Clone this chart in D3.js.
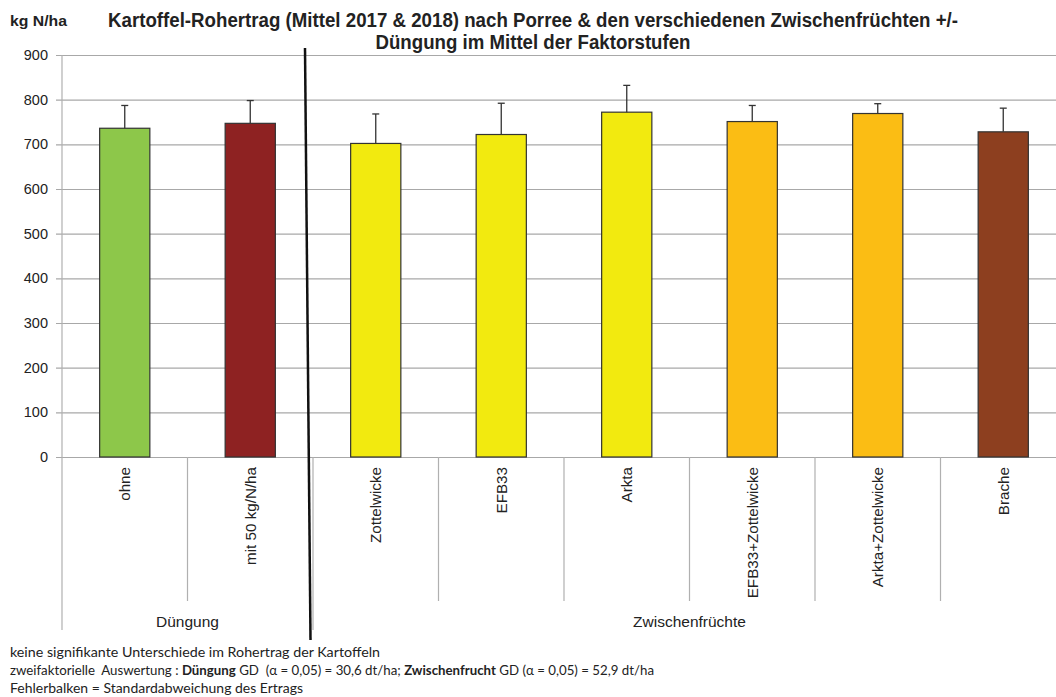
<!DOCTYPE html>
<html><head><meta charset="utf-8">
<script src="https://cdn.jsdelivr.net/npm/d3@7"></script>
<style>body{margin:0;background:#fff}svg{display:block}</style>
</head><body>
<script>
const categories = ["ohne","mit 50 kg/N/ha","Zottelwicke","EFB33","Arkta","EFB33+Zottelwicke","Arkta+Zottelwicke","Brache"];
const groups = [{name:"Düngung", start:0, end:2},{name:"Zwischenfrüchte", start:2, end:8}];
const values = [736, 747, 702, 722, 772, 751, 769, 728];
const errors = [51, 51, 66, 70, 60, 36, 22, 53];
const colors = ["#8dc74a","#8e2222","#f2ea0f","#f2ea0f","#f2ea0f","#fbbd14","#fbbd14","#8d3f1f"];
const yTicks = [0,100,200,300,400,500,600,700,800,900];
const titleLines = ["Kartoffel-Rohertrag (Mittel 2017 & 2018) nach Porree & den verschiedenen Zwischenfrüchten +/-","Düngung im Mittel der Faktorstufen"];
const yLabel = "kg N/ha";
const notes = [
  [{t:"keine signifikante Unterschiede im Rohertrag der Kartoffeln"}],
  [{t:"zweifaktorielle  Auswertung : "},{t:"Düngung",b:true},{t:" GD  (α = 0,05) = 30,6 dt/ha; "},{t:"Zwischenfrucht",b:true},{t:" GD (α = 0,05) = 52,9 dt/ha"}],
  [{t:"Fehlerbalken = Standardabweichung des Ertrags"}]
];

const W = 1056, H = 697;
const svg = d3.select("body").append("svg").attr("width", W).attr("height", H);
const left = 62, bandW = 125.5;
const x = d3.scaleBand().domain(categories).range([left, left + bandW*categories.length]).paddingInner(0).paddingOuter(0);
const y = d3.scaleLinear().domain([0,900]).range([457,55]);
const font = "'Liberation Sans', Arial, sans-serif";

// gridlines
svg.append("g").selectAll("line").data(yTicks).join("line")
  .attr("x1", 56).attr("x2", W).attr("y1", d=>y(d)+0.5).attr("y2", d=>y(d)+0.5)
  .attr("stroke", "#a8a8a8").attr("stroke-width", 1.2);

// y axis
const yAxis = svg.append("g").attr("transform", `translate(${left},0)`)
  .call(d3.axisLeft(y).tickValues(yTicks).tickSize(0).tickPadding(14));
yAxis.select(".domain").remove();
yAxis.selectAll("text").attr("font-family", font).attr("font-size", 14.5).attr("fill", "#222");
svg.append("line").attr("x1", left).attr("x2", left).attr("y1", 55).attr("y2", 630)
  .attr("stroke", "#b0b0b0").attr("stroke-width", 1.2);

// category dividers
const divs = d3.range(1, categories.length+1);
svg.append("g").selectAll("line").data(divs).join("line")
  .attr("x1", i=>left + i*bandW).attr("x2", i=>left + i*bandW)
  .attr("y1", 457).attr("y2", i => groups.some(g=>g.end===i) ? 630 : 601)
  .attr("stroke", "#b0b0b0").attr("stroke-width", 1.2);

// bars
const bw = bandW*0.4;
svg.append("g").selectAll("rect").data(categories).join("rect")
  .attr("x", (d)=>x(d)+ (bandW-bw)/2).attr("width", bw)
  .attr("y", (d,i)=>y(values[i])).attr("height", (d,i)=>y(0)-y(values[i]))
  .attr("fill", (d,i)=>colors[i]).attr("stroke", "#333").attr("stroke-width", 1.2);

// error bars
const eb = svg.append("g").attr("stroke", "#333").attr("stroke-width", 1.3);
categories.forEach((c,i)=>{
  const cx = x(c) + bandW/2;
  eb.append("line").attr("x1", cx).attr("x2", cx).attr("y1", y(values[i])).attr("y2", y(values[i]+errors[i]));
  eb.append("line").attr("x1", cx-3.5).attr("x2", cx+3.5).attr("y1", y(values[i]+errors[i])).attr("y2", y(values[i]+errors[i]));
});

// category labels rotated
svg.append("g").selectAll("text").data(categories).join("text")
  .attr("transform", d=>`translate(${x(d)+bandW/2+5.5},467) rotate(-90)`)
  .attr("text-anchor", "end").attr("font-family", font).attr("font-size", 15.2).attr("fill", "#222")
  .text(d=>d);

// group labels
svg.append("g").selectAll("text").data(groups).join("text")
  .attr("x", g=> left + (g.start+g.end)/2*bandW)
  .attr("y", 627).attr("text-anchor", "middle")
  .attr("font-family", font).attr("font-size", 15.5).attr("fill", "#222")
  .text(g=>g.name);

// thick separator line
svg.append("line").attr("x1", 305).attr("y1", 48).attr("x2", 310.5).attr("y2", 640)
  .attr("stroke", "#111").attr("stroke-width", 2.5);

// title
const titleLen = [850, 315];
svg.append("g").selectAll("text").data(titleLines).join("text")
  .attr("x", 533).attr("y", (d,i)=>27 + i*22).attr("text-anchor", "middle")
  .attr("font-family", font)
  .attr("font-weight", "bold").attr("font-size", 19.5).attr("fill", "#222")
  .attr("textLength", (d,i)=>titleLen[i]).attr("lengthAdjust", "spacingAndGlyphs")
  .text(d=>d);
svg.append("text").attr("x", 10).attr("y", 26).attr("font-family", font)
  .attr("font-weight", "bold").attr("font-size", 15).attr("fill", "#222")
  .attr("textLength", 57).attr("lengthAdjust", "spacingAndGlyphs").text(yLabel);

// notes
const noteLen = [370, 644, 293];
notes.forEach((parts,i)=>{
  const t = svg.append("text").attr("x", 10).attr("y", 657 + i*18)
    .attr("font-family", "Lato, 'Open Sans', sans-serif").attr("font-size", 13.3).attr("fill", "#222")
    .attr("textLength", noteLen[i]).attr("lengthAdjust", "spacingAndGlyphs");
  parts.forEach(p=> t.append("tspan").attr("font-weight", p.b ? "bold" : "normal").attr("xml:space","preserve").text(p.t));
});
</script>
</body></html>
